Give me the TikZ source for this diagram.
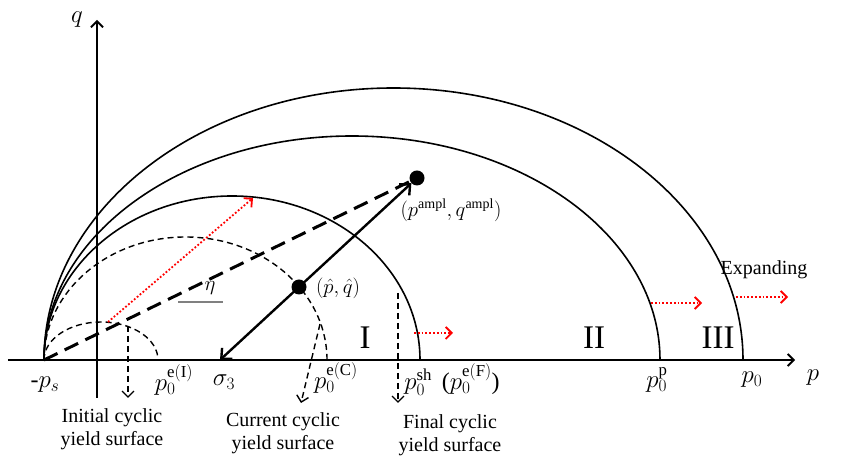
\documentclass[tikz,border=0pt]{standalone}
\usepackage{fontspec}
\setmainfont{Liberation Serif}
\usetikzlibrary{arrows.meta}

\tikzset{
  >={Straight Barb[length=6pt,width=12pt]},
  axis/.style={line width=1.8pt,->},
  yieldsurf/.style={line width=1.6pt},
  cyclicsurf/.style={line width=1.4pt,dash pattern=on 6pt off 4pt},
  etaline/.style={line width=3pt,dash pattern=on 15pt off 8pt},
  pointer/.style={line width=1.4pt,dash pattern=on 6pt off 4pt,->},
  expand/.style={red,line width=1.8pt,dotted,->},
  dot/.style={circle,fill,inner sep=0pt,minimum size=15pt},
  lbl/.style={font=\fontsize{24}{28}\selectfont},
  axlbl/.style={font=\fontsize{32}{34}\selectfont},
  note/.style={font=\fontsize{20}{23}\selectfont,align=center},
  zone/.style={font=\fontsize{33}{36}\selectfont},
}

\begin{document}
\begin{tikzpicture}[x=1pt,y=1pt]
\useasboundingbox (-97,-97) rectangle (744,360);
% axes
\draw[axis] (-89,0) -- (698,0);
\draw[axis] (0,-38) -- (0,340);
\node[axlbl] (paxis) at (716,-18) {$p$};
\node[axlbl] (qaxis) at (-20,340) {$q$};

% cyclic and yield surfaces
\coordinate (ps) at (-53,0);
\draw[cyclicsurf] (ps) arc[start angle=180,end angle=0,x radius=57,y radius=38];
\draw[cyclicsurf] (ps) arc[start angle=180,end angle=0,x radius=141.5,y radius=123];
\foreach \a/\b in {188/164,308/224,349.5/272}
  \draw[yieldsurf] (ps) arc[start angle=180,end angle=0,x radius=\a,y radius=\b];

% stress points
\node[dot] (ampl) at (320,182) {};
\node[dot] (hat) at (202,73) {};
\coordinate (sig) at (123,0);
\draw[etaline] (ps) -- (ampl);
\draw[line width=2.4pt,{Straight Barb[length=8pt,width=15pt]}-{Straight Barb[length=8pt,width=15pt]}] (sig) -- (ampl);
\draw[gray,line width=1.2pt] (81,58) -- (126,58);
\node[note] (eta) at (113,72) {$\eta$};
\node[note,inner sep=1pt] (hatl) at (241,72) {$(\hat{p},\hat{q})$};
\node[note] (ampll) at (354,150) {$(p^{\mathrm{ampl}},q^{\mathrm{ampl}})$};

% expansion
\coordinate (r0) at (11,38);
\coordinate (r1) at (156,162);
\draw[expand] (r0) -- (r1);
\foreach \n/\s/\e/\h in {1/317/356/27,2/554/605/57,3/639/691/63}{
  \coordinate (e\n a) at (\s,\h);
  \coordinate (e\n b) at (\e,\h);
  \draw[expand] (e\n a) -- (e\n b);
}
\node[note] (expl) at (667,90) {Expanding};

% zones
\node[zone] (z1) at (268,22) {I};
\node[zone] (z2) at (497,22) {II};
\node[zone] (z3) at (621,22) {III};

% axis labels
\node[lbl] (psl) at (-52,-25) {-$p_s$};
\node[lbl] (p0i) at (77,-20) {$p_0^{\mathrm{e(I)}}$};
\node[lbl] (sig3) at (127,-22) {$\sigma_3$};
\node[lbl] (p0c) at (239,-18) {$p_0^{\mathrm{e(C)}}$};
\node[lbl] (p0sh) at (355,-20) {$p_0^{\mathrm{sh}}$\ \,($p_0^{\mathrm{e(F)}}$)};
\node[lbl] (p0p) at (560,-20) {$p_0^{\mathrm{p}}$};
\node[lbl] (p0) at (655,-20) {$p_0$};

% pointers to the surfaces
\node[note] (initl) at (15,-69) {Initial cyclic\\yield surface};
\node[note] (curl) at (186,-73) {Current cyclic\\yield surface};
\node[note] (finl) at (353,-75) {Final cyclic\\yield surface};
\coordinate (i0) at (31,34);
\coordinate (i1) at (31,-38);
\coordinate (c0) at (223,36);
\coordinate (c1) at (204,-43);
\coordinate (f0) at (301,67);
\coordinate (f1) at (301,-43);
\draw[pointer] (i0) -- (i1);
\draw[pointer] (c0) -- (c1);
\draw[pointer] (f0) -- (f1);
\end{tikzpicture}
\end{document}
